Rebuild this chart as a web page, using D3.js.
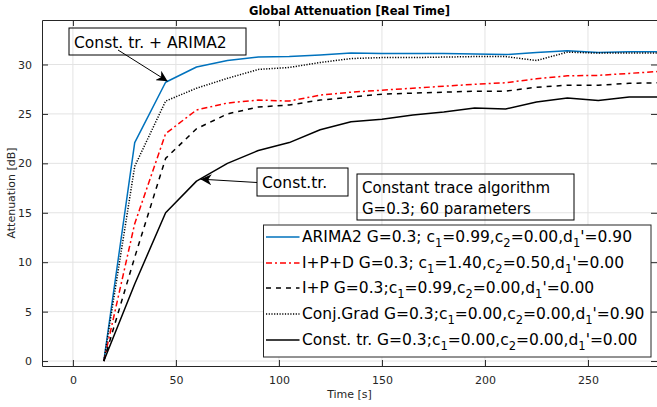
<!DOCTYPE html>
<html><head><meta charset="utf-8">
<script src="https://cdn.jsdelivr.net/npm/d3@7"></script>
<style>body{margin:0;background:#fff}svg{display:block;font-family:"DejaVu Sans",sans-serif}</style>
</head><body>
<svg id="chart" width="657" height="407"></svg>
<script>
const title = "Global Attenuation [Real Time]";
const xLabel = "Time [s]";
const yLabel = "Attenuation [dB]";
const xTicks = [0, 50, 100, 150, 200, 250];
const yTicks = [0, 5, 10, 15, 20, 25, 30];
const time = [15,30,45,60,75,90,105,120,135,150,165,180,195,210,225,240,255,270,285];
const arima = [0,22.1,28.2,29.75,30.4,30.75,30.8,30.95,31.15,31.1,31.1,31.1,31.05,31.0,31.2,31.4,31.2,31.3,31.3];
const ipd   = [0,13.9,23.0,25.4,26.1,26.4,26.3,26.9,27.2,27.4,27.6,27.8,28.0,28.15,28.55,28.85,28.9,29.1,29.3];
const ip    = [0,10.5,20.5,23.5,25.0,25.7,25.9,26.4,26.7,27.0,27.1,27.2,27.3,27.3,27.7,27.9,27.9,28.1,28.15];
const cg    = [0,19.7,26.3,27.6,28.6,29.5,29.7,30.2,30.6,30.7,30.7,30.75,30.8,30.8,30.4,31.25,31.15,31.15,31.15];
const ct    = [0,7.8,15.0,18.2,20.0,21.3,22.1,23.4,24.2,24.45,24.9,25.2,25.6,25.5,26.2,26.6,26.35,26.7,26.7];
const seriesNames = [
  "ARIMA2 G=0.3; c_1=0.99,c_2=0.00,d_1'=0.90",
  "I+P+D G=0.3; c_1=1.40,c_2=0.50,d_1'=0.00",
  "I+P G=0.3;c_1=0.99,c_2=0.00,d_1'=0.00",
  "Conj.Grad G=0.3;c_1=0.00,c_2=0.00,d_1'=0.90",
  "Const. tr. G=0.3;c_1=0.00,c_2=0.00,d_1'=0.00"
];
const seriesValues = [arima, ipd, ip, cg, ct];
const seriesColors = ["#0072BD", "#FF0000", "#000000", "#000000", "#000000"];
const seriesDash = [null, "6,3,2,3", "5,5", "1.2,1.5", null];
const annoText1 = "Const. tr. + ARIMA2";
const annoText2 = "Const.tr.";
const annoText3 = ["Constant trace algorithm", "G=0.3; 60 parameters"];

const svg = d3.select("#chart");
const L = 42, R = 657, T = 20, B = 366;
const x = d3.scaleLinear().domain([-15, 283.5]).range([L, R]);
const y = d3.scaleLinear().domain([-0.5, 34.5]).range([B, T]);
const axisCol = "#262626";

// grid
svg.append("g").selectAll("line").data(xTicks).join("line")
  .attr("x1", d => x(d)).attr("x2", d => x(d)).attr("y1", T).attr("y2", B)
  .attr("stroke", "#e3e3e3").attr("stroke-width", 1);
svg.append("g").selectAll("line").data(yTicks).join("line")
  .attr("y1", d => y(d)).attr("y2", d => y(d)).attr("x1", L).attr("x2", R)
  .attr("stroke", "#e3e3e3").attr("stroke-width", 1);

// axes
const xAx = d3.axisBottom(x).tickValues(xTicks).tickSizeInner(-6).tickSizeOuter(0).tickPadding(10);
const yAx = d3.axisLeft(y).tickValues(yTicks).tickSizeInner(-6).tickSizeOuter(0).tickPadding(10);
const gx = svg.append("g").attr("transform", `translate(0,${B})`).call(xAx);
const gy = svg.append("g").attr("transform", `translate(${L},0)`).call(yAx);
const gxt = svg.append("g").attr("transform", `translate(0,${T})`).call(d3.axisTop(x).tickValues(xTicks).tickSizeInner(-6).tickSizeOuter(0).tickFormat(""));
const gyr = svg.append("g").attr("transform", `translate(${R},0)`).call(d3.axisRight(y).tickValues(yTicks).tickSizeInner(-6).tickSizeOuter(0).tickFormat(""));
[gx, gy, gxt, gyr].forEach(g => {
  g.select(".domain").attr("stroke", axisCol).attr("stroke-width", 1);
  g.selectAll(".tick line").attr("stroke", axisCol);
  g.selectAll("text").attr("fill", axisCol).attr("font-size", 11).attr("font-family", "DejaVu Sans");
});

// lines
svg.append("clipPath").attr("id", "clip").append("rect")
  .attr("x", L).attr("y", T).attr("width", R - L).attr("height", B - T);
const line = d3.line().x(d => x(d[0])).y(d => y(d[1]));
const gl = svg.append("g").attr("clip-path", "url(#clip)");
seriesValues.forEach((vals, i) => {
  gl.append("path").datum(time.map((t, j) => [t, vals[j]]))
    .attr("d", line).attr("fill", "none")
    .attr("stroke", seriesColors[i]).attr("stroke-width", 1.5)
    .attr("stroke-dasharray", seriesDash[i]).attr("stroke-linejoin", "round");
});

// title & labels
svg.append("text").attr("x", (L + R) / 2).attr("y", 15).attr("text-anchor", "middle")
  .attr("font-weight", "bold").attr("font-size", 11.5).attr("fill", "#000").text(title);
svg.append("text").attr("x", (L + R) / 2).attr("y", 398).attr("text-anchor", "middle")
  .attr("font-size", 11).attr("fill", axisCol).text(xLabel);
svg.append("text").attr("transform", `translate(15,${(T + B) / 2}) rotate(-90)`).attr("text-anchor", "middle")
  .attr("font-size", 11).attr("fill", axisCol).text(yLabel);

// arrows
const defs = svg.append("defs");
defs.append("marker").attr("id", "arr").attr("viewBox", "0 0 10 10").attr("refX", 10).attr("refY", 5)
  .attr("markerWidth", 11).attr("markerHeight", 11).attr("markerUnits", "userSpaceOnUse").attr("orient", "auto")
  .append("path").attr("d", "M0,0 L10,5 L0,10 L3,5 Z").attr("fill", "#000");

function box(x0, y0, w, h) {
  svg.append("rect").attr("x", x0).attr("y", y0).attr("width", w).attr("height", h)
    .attr("fill", "none").attr("stroke", "#000").attr("stroke-width", 1);
}
// annotation 1
box(69, 28, 177, 27);
svg.append("text").attr("x", 74).attr("y", 48).attr("font-size", 15.5).attr("fill", "#000").text(annoText1);
svg.append("line").attr("x1", 118).attr("y1", 50).attr("x2", x(45) + 2).attr("y2", y(arima[2]) - 1)
  .attr("stroke", "#000").attr("marker-end", "url(#arr)");
// annotation 2
box(257, 168, 91, 28);
svg.append("text").attr("x", 262).attr("y", 188).attr("font-size", 15.5).attr("fill", "#000").text(annoText2);
svg.append("line").attr("x1", 257).attr("y1", 182.5).attr("x2", x(60) + 4).attr("y2", y(ct[3]) - 2)
  .attr("stroke", "#000").attr("marker-end", "url(#arr)");
// annotation 3
box(357, 174, 217, 46);
svg.append("text").attr("x", 362).attr("y", 193).attr("font-size", 15).attr("fill", "#000").text(annoText3[0]);
svg.append("text").attr("x", 362).attr("y", 214).attr("font-size", 15).attr("fill", "#000").text(annoText3[1]);

// legend
const lg = svg.append("g");
lg.append("rect").attr("x", 263.5).attr("y", 225).attr("width", 387.5).attr("height", 132)
  .attr("fill", "#fff").attr("stroke", "#262626").attr("stroke-width", 1);
const rowY = [237, 263, 288, 314, 340];
seriesNames.forEach((name, i) => {
  lg.append("line").attr("x1", 266).attr("x2", 299.5).attr("y1", rowY[i]).attr("y2", rowY[i])
    .attr("stroke", seriesColors[i]).attr("stroke-width", 1.5).attr("stroke-dasharray", seriesDash[i]);
  const t = lg.append("text").attr("x", 302).attr("y", rowY[i] + 5).attr("font-size", 15.5).attr("fill", "#000");
  const parts = name.split(/(_\w)/).filter(p => p);
  let pendingDy = 0;
  parts.forEach(p => {
    if (p[0] === "_") {
      t.append("tspan").attr("font-size", 11.5).attr("dy", 5).text(p.slice(1));
      pendingDy = -5;
    } else {
      const s = t.append("tspan").text(p);
      if (pendingDy) { s.attr("dy", pendingDy); pendingDy = 0; }
    }
  });
});
</script>
</body></html>
